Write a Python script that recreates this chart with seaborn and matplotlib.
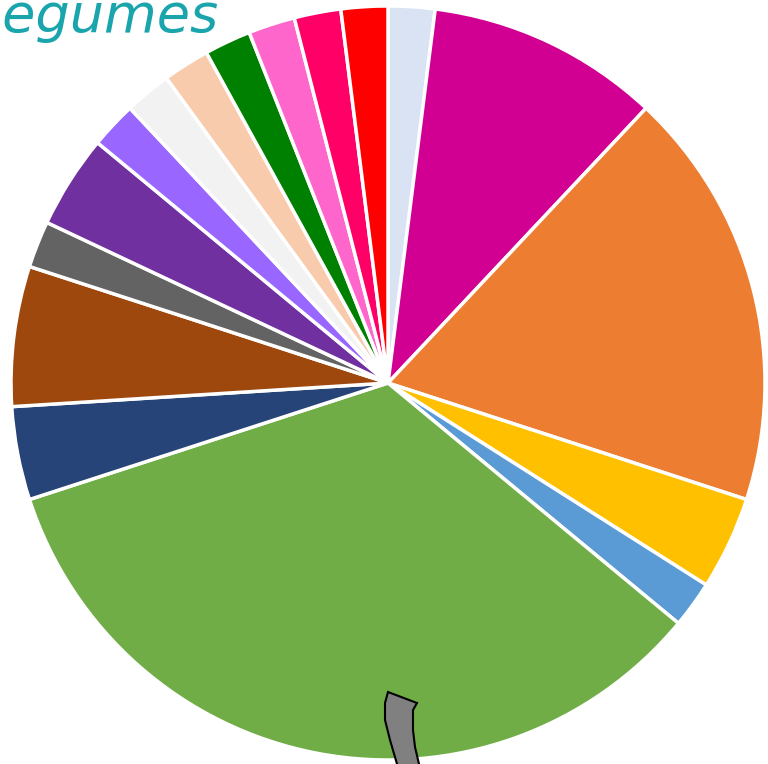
import matplotlib
matplotlib.use("Agg")
import matplotlib.pyplot as plt
from matplotlib.patches import Polygon
import seaborn as sns

sns.set_theme(style="white")

categories = ["Cat 1", "Cat 2", "Cat 3", "Cat 4", "Cat 5", "Cat 6", "Cat 7", "Cat 8",
              "Cat 9", "Cat 10", "Cat 11", "Cat 12", "Cat 13", "Cat 14", "Cat 15",
              "Cat 16", "Cat 17"]
values = [1, 5, 9, 2, 1, 17, 2, 3, 1, 2, 1, 1, 1, 1, 1, 1, 1]
colors = ["#dae3f3", "#d20092", "#ed7d31", "#ffc000", "#5b9bd5", "#70ad47", "#264478",
          "#9e480e", "#636363", "#7030a0", "#9966ff", "#f2f2f2", "#f8cbad", "#008000",
          "#ff66cc", "#ff0066", "#ff0000"]
title = "Légumes"

W, H = 768, 764
fig = plt.figure(figsize=(W / 100, H / 100), dpi=100)
ax = fig.add_axes([0, 0, 1, 1])

cx, cy, r = 388, H - 383, 377
pal = sns.color_palette(colors)
ax.pie(values, colors=pal, startangle=90, counterclock=False, center=(cx, cy), radius=r,
       wedgeprops=dict(edgecolor="white", linewidth=2.5), frame=True)
ax.set_xlim(0, W)
ax.set_ylim(0, H)
ax.set_aspect("equal")
ax.axis("off")

# decorative stem
stem_left = [(388, 692), (385, 703), (385, 720), (390, 740), (397, 764), (399, 775)]
stem_right = [(421, 775), (419, 764), (415, 747), (413, 730), (413, 710), (417, 703)]
pts = [(x, H - y) for x, y in stem_left + stem_right]
ax.add_patch(Polygon(pts, closed=True, facecolor="#808080", edgecolor="black", linewidth=1.5, zorder=5))

fig.text(219 / W, 1 - 32 / H, title, ha="right", va="baseline", fontsize=39,
         color="#1aa5ad", fontstyle="oblique", family=["DejaVu Sans"])

fig.savefig("out.png", dpi=100)
